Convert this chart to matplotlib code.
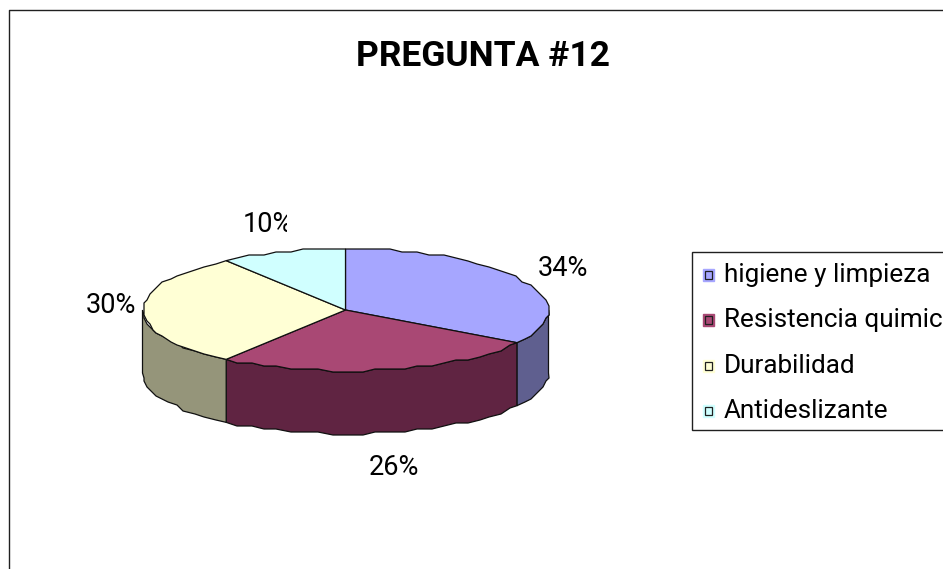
import numpy as np
import matplotlib
matplotlib.use('Agg')
import matplotlib.pyplot as plt
from matplotlib.patches import Rectangle, Polygon
from matplotlib.transforms import Bbox

categories = ['higiene y limpieza', 'Resistencia quimica', 'Durabilidad', 'Antideslizante']
values = [34, 26, 30, 10]
labels = ['34%', '26%', '30%', '10%']
top_colors = ['#A6A6FF', '#A94874', '#FFFFD5', '#D0FFFF']
side_colors = ['#5F5F8F', '#602442', '#95957A', '#7F9F9F']

W, H = 943, 569
CX, CY = 345.5, 310
RX, RY = 203, 61
DEPTH = 63
GRID = 3.0


def edge(a0, a1, dy=0):
    """Points of the ellipse rim, angle clockwise from the top, snapped to a coarse grid"""
    n = max(2, int(abs(a1 - a0) / 4) + 1)
    a = np.radians(np.linspace(a0, a1, n))
    x = CX + RX * np.sin(a)
    y = CY - RY * np.cos(a)
    x[1:-1] = np.round(x[1:-1] / GRID) * GRID
    y[1:-1] = np.round(y[1:-1] / GRID) * GRID
    return np.column_stack([x, y + dy])


plt.rcParams['font.family'] = ['Roboto', 'DejaVu Sans']

fig = plt.figure(figsize=(W / 100, H / 100), dpi=100)
ax = fig.add_axes([0, 0, 1, 1])
ax.set_xlim(0, W)
ax.set_ylim(H, 0)
ax.axis('off')

# chart frame, runs off the right and bottom of the picture
ax.plot([9, 9, W + 5], [H + 5, 10, 10], color='#202020', lw=1)

ax.text(483, 56, 'PREGUNTA #12', fontsize=25.5, fontweight='bold',
        ha='center', va='center', color='black')

# slice angles
bounds = np.cumsum([0] + values) / sum(values) * 360

# side walls, only the front half is visible
for i in range(len(values)):
    a0, a1 = max(bounds[i], 90), min(bounds[i + 1], 270)
    if a1 <= a0:
        continue
    wall = np.vstack([edge(a0, a1), edge(a1, a0, DEPTH)])
    ax.add_patch(Polygon(wall, closed=True, facecolor=side_colors[i],
                         edgecolor='#101010', lw=0.9))

# top faces
for i in range(len(values)):
    rim = edge(bounds[i], bounds[i + 1])
    face = np.vstack([[CX, CY], rim])
    ax.add_patch(Polygon(face, closed=True, facecolor=top_colors[i],
                         edgecolor='#101010', lw=0.9))

# percent labels
label_pos = [(563, 268), (394, 467), (111, 305), (268, 224)]
for txt, (x, y) in zip(labels, label_pos):
    t = ax.text(x, y, txt, fontsize=19.5, ha='center', va='center', color='black')
    # the 10% label is cut off in the original
    if txt == '10%':
        t.set_clip_box(Bbox([[0, 0], [287, H]]))
        t.set_clip_on(True)

# legend
ax.add_patch(Rectangle((692, 252), 262, 178, facecolor='white', edgecolor='#202020', lw=1))
legend_y = [275, 320, 366, 411]
for name, color, y in zip(categories, top_colors, legend_y):
    ax.add_patch(Rectangle((703, y - 6), 11, 12, facecolor=color, edgecolor=color, lw=1))
    ax.add_patch(Rectangle((705, y - 4), 7, 8, facecolor=color, edgecolor='#202020', lw=0.9))
    ax.text(724, y, name, fontsize=18.8, ha='left', va='center', color='black')

fig.savefig('out.png', dpi=100)
